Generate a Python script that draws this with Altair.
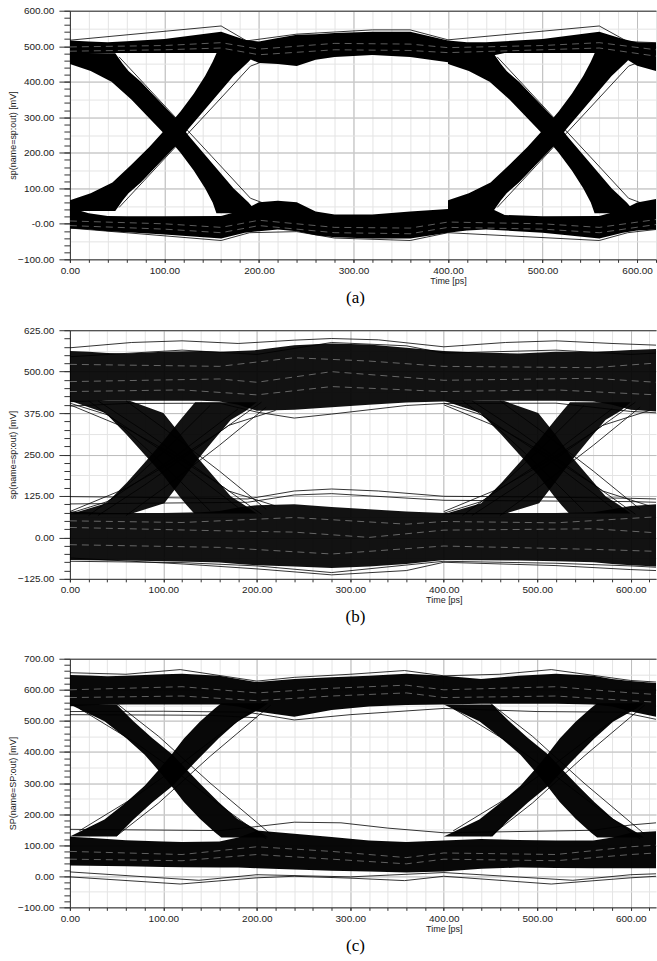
import altair as alt
import pandas as pd

# ---------------- shared axis values ----------------
X_MAJOR = [0, 100, 200, 300, 400, 500, 600]
X_MINOR = [0, 20, 40, 60, 80, 100, 120, 140, 160, 180, 200, 220, 240, 260, 280, 300,
           320, 340, 360, 380, 400, 420, 440, 460, 480, 500, 520, 540, 560, 580, 600, 620]

# ---------------- panel (a) ----------------
A_YMAJ = [-100, 0, 100, 200, 300, 400, 500, 600]
A_YTICK = [-100, -80, -60, -40, -20, 0, 20, 40, 60, 80, 100, 120, 140, 160, 180, 200, 220, 240,
           260, 280, 300, 320, 340, 360, 380, 400, 420, 440, 460, 480, 500, 520, 540, 560, 580, 600]
A_YGRID = [-100, -50, 0, 50, 100, 150, 200, 250, 300, 350, 400, 450, 500, 550, 600]
A_T      = [0, 20, 40, 60, 100, 160, 185, 200, 220, 240, 260, 280, 320, 360, 400, 420, 440, 460, 500, 560, 585, 600, 620]
A_HI_TOP = [516, 513, 511, 514, 520, 541, 518, 513, 523, 532, 534, 537, 541, 541, 516, 511, 511, 514, 520, 541, 520, 511, 510]
A_HI_BOT = [470, 478, 481, 481, 481, 481, 470, 453, 450, 444, 462, 470, 475, 470, 455, 460, 470, 481, 481, 481, 470, 445, 430]
A_LO_TOP = [45, 30, 22, 21, 21, 22, 40, 61, 65, 61, 35, 26, 26, 35, 42, 58, 50, 25, 21, 22, 40, 60, 70]
A_LO_BOT = [-13, -16, -21, -24, -30, -41, -25, -21, -16, -21, -32, -38, -41, -41, -25, -19, -16, -19, -25, -41, -25, -19, -16]
A_FALL_V  = [480, 450, 430, 400, 350, 300, 250, 200, 150, 100, 60, 30]
A_FALL1_L = [0, 0, 22, 44, 65, 83, 101, 117, 131, 143, 151, 155]
A_FALL1_R = [48, 56, 62, 75, 93, 111, 125, 141, 157, 173, 189, 199]
A_FALL2_L = [400, 400, 422, 444, 465, 483, 501, 517, 531, 543, 551, 555]
A_FALL2_R = [448, 456, 462, 475, 493, 511, 525, 541, 557, 573, 589, 599]
A_RISE_V  = [36, 66, 86, 116, 166, 216, 266, 316, 366, 416, 456, 486]
A_RISE1_L = [0, 0, 22, 45, 65, 84, 101, 117, 131, 143, 151, 156]
A_RISE1_R = [48, 56, 62, 75, 93, 111, 125, 141, 157, 173, 189, 199]
A_RISE2_L = [400, 400, 422, 445, 465, 484, 501, 517, 531, 543, 551, 556]
A_RISE2_R = [448, 456, 462, 475, 493, 511, 525, 541, 557, 573, 589, 599]
A_FRINGE = [
    ([0, 160, 187, 240, 320, 360, 400, 560, 590, 620], [517, 557, 515, 534, 546, 546, 518, 557, 513, 510]),
    ([0, 160, 190, 240, 280, 360, 400, 560, 590, 620], [-12, -47, -25, -22, -40, -47, -25, -47, -25, -16]),
    ([52, 79, 150, 191, 205], [470, 393, 190, 72, 58]),
    ([52, 79, 150, 191, 205], [46, 123, 326, 444, 458]),
    ([452, 479, 550, 591, 605], [470, 393, 190, 72, 58]),
    ([452, 479, 550, 591, 605], [46, 123, 326, 444, 458]),
]
A_STREAKS = [
    ([0, 100, 160, 200, 280, 360, 400, 500, 560, 620], [498, 502, 510, 492, 508, 506, 496, 502, 510, 490]),
    ([0, 100, 160, 200, 280, 360, 400, 500, 560, 620], [486, 490, 495, 476, 490, 488, 482, 490, 495, 472]),
    ([0, 100, 160, 200, 280, 360, 400, 500, 560, 620], [8, 0, -10, 10, -10, -12, 5, 0, -10, 12]),
    ([0, 100, 160, 200, 280, 360, 400, 500, 560, 620], [-5, -15, -25, -5, -25, -28, -10, -15, -25, -2]),
]

# ---------------- panel (b) ----------------
B_YMAJ = [-125, 0, 125, 250, 375, 500, 625]
B_YTICK = [-125, -100, -75, -50, -25, 0, 25, 50, 75, 100, 125, 150, 175, 200, 225, 250, 275, 300,
           325, 350, 375, 400, 425, 450, 475, 500, 525, 550, 575, 600, 625]
B_YGRID = [-125, -62.5, 0, 62.5, 125, 187.5, 250, 312.5, 375, 437.5, 500, 562.5, 625]
B_T      = [0, 20, 40, 60, 100, 140, 160, 180, 200, 240, 280, 320, 360, 400, 440, 480, 520, 560, 580, 600, 627]
B_HI_TOP = [562, 560, 556, 555, 560, 562, 560, 562, 565, 580, 585, 582, 572, 562, 558, 555, 560, 560, 562, 565, 568]
B_HI_BOT = [408, 410, 412, 412, 412, 412, 410, 400, 382, 385, 393, 400, 407, 410, 412, 412, 412, 410, 400, 385, 380]
B_LO_TOP = [78, 76, 74, 74, 74, 76, 80, 90, 97, 100, 92, 85, 78, 74, 74, 74, 74, 76, 85, 95, 100]
B_LO_BOT = [-68, -69, -70, -70, -72, -74, -76, -80, -84, -88, -92, -88, -80, -68, -69, -70, -72, -75, -80, -84, -88]
B_FALL_V  = [412, 375, 312, 249, 187, 124, 97, 72]
B_FALL1_L = [0, 38, 60, 80, 100, 117, 125, 133]
B_FALL1_R = [64, 100, 118, 134, 153, 172, 187, 200]
B_FALL2_L = [400, 439, 461, 481, 501, 518, 526, 534]
B_FALL2_R = [464, 501, 519, 535, 554, 573, 588, 600]
B_RISE_V  = [70, 103, 166, 229, 291, 354, 381, 408]
B_RISE1_L = [0, 39, 61, 81, 100, 118, 126, 134]
B_RISE1_R = [64, 101, 118, 135, 153, 172, 188, 200]
B_RISE2_L = [400, 440, 462, 482, 501, 519, 527, 535]
B_RISE2_R = [464, 502, 519, 536, 554, 573, 589, 600]
B_FRINGE = [
    ([0, 66, 120, 180, 240, 280, 330, 400, 466, 520, 580, 627], [572, 588, 593, 585, 595, 600, 596, 575, 588, 593, 585, 580]),
    ([0, 120, 200, 280, 360, 400, 520, 600, 627], [545, 565, 552, 588, 578, 556, 565, 552, 556]),
    ([0, 120, 200, 280, 360, 400, 520, 600, 627], [-62, -80, -95, -113, -100, -75, -85, -97, -100]),
    ([0, 120, 200, 280, 400, 520, 600, 627], [-72, -76, -86, -106, -72, -78, -86, -90]),
    ([0, 100, 190, 240, 280, 330, 400, 500, 600, 627], [123, 120, 116, 140, 146, 140, 124, 122, 118, 116]),
    ([0, 190, 240, 280, 400, 600, 627], [101, 106, 128, 132, 112, 108, 106]),
    ([0, 60, 160, 200, 240, 280, 360, 400, 520, 600, 627], [396, 404, 405, 378, 360, 372, 398, 404, 405, 380, 376]),
    ([0, 60, 110, 160, 205], [400, 330, 250, 160, 70]),
    ([0, 60, 110, 160, 205], [78, 148, 228, 318, 408]),
    ([400, 460, 510, 560, 605], [400, 330, 250, 160, 70]),
    ([400, 460, 510, 560, 605], [78, 148, 228, 318, 408]),
    ([60, 100, 160, 210], [412, 330, 200, 85]),
    ([60, 100, 160, 210], [66, 148, 278, 393]),
    ([460, 500, 560, 610], [412, 330, 200, 85]),
    ([460, 500, 560, 610], [66, 148, 278, 393]),
    ([20, 50, 100, 150], [412, 350, 220, 80]),
    ([20, 50, 100, 150], [66, 128, 258, 398]),
    ([420, 450, 500, 550], [412, 350, 220, 80]),
    ([420, 450, 500, 550], [66, 128, 258, 398]),
    ([0, 40, 110, 180], [405, 370, 240, 90]),
    ([0, 40, 110, 180], [73, 108, 238, 388]),
    ([400, 440, 510, 580], [405, 370, 240, 90]),
    ([400, 440, 510, 580], [73, 108, 238, 388]),
    ([30, 80, 120, 170, 220], [412, 320, 240, 140, 95]),
    ([30, 80, 120, 170, 220], [66, 158, 238, 338, 383]),
    ([430, 480, 520, 570, 620], [412, 320, 240, 140, 95]),
    ([430, 480, 520, 570, 620], [66, 158, 238, 338, 383]),
]
B_STREAKS = [
    ([0, 160, 200, 280, 400, 560, 627], [470, 478, 468, 500, 474, 480, 468]),
    ([0, 160, 240, 320, 400, 560, 627], [522, 516, 542, 532, 516, 512, 526]),
    ([0, 120, 200, 280, 400, 520, 627], [440, 445, 430, 455, 440, 445, 430]),
    ([0, 160, 240, 320, 400, 560, 627], [30, 20, 16, 0, 22, 26, 14]),
    ([0, 160, 280, 400, 560, 627], [-22, -30, -50, -26, -36, -42]),
    ([0, 120, 240, 360, 400, 520, 627], [50, 45, 60, 40, 48, 44, 62]),
]

# ---------------- panel (c) ----------------
C_YMAJ = [-100, 0, 100, 200, 300, 400, 500, 600, 700]
C_YTICK = [-100, -80, -60, -40, -20, 0, 20, 40, 60, 80, 100, 120, 140, 160, 180, 200, 220, 240,
           260, 280, 300, 320, 340, 360, 380, 400, 420, 440, 460, 480, 500, 520, 540, 560, 580,
           600, 620, 640, 660, 680, 700]
C_YGRID = [-100, -50, 0, 50, 100, 150, 200, 250, 300, 350, 400, 450, 500, 550, 600, 650, 700]
C_T      = [0, 20, 40, 60, 100, 120, 160, 180, 200, 240, 280, 320, 360, 400, 440, 480, 520, 560, 580, 600, 627]
C_HI_TOP = [648, 646, 644, 645, 650, 652, 645, 635, 625, 635, 640, 645, 652, 645, 635, 645, 652, 645, 635, 628, 622]
C_HI_BOT = [547, 550, 552, 553, 553, 553, 553, 546, 530, 513, 535, 546, 551, 553, 555, 555, 555, 553, 546, 530, 513]
C_LO_TOP = [127, 124, 120, 116, 112, 110, 112, 125, 147, 137, 126, 115, 110, 115, 120, 117, 115, 115, 125, 140, 145]
C_LO_BOT = [35, 34, 33, 32, 30, 29, 28, 28, 26, 22, 18, 15, 12, 15, 24, 28, 27, 26, 26, 26, 26]
C_FALL_V  = [553, 499, 445, 391, 343, 293, 239, 185, 142, 125]
C_FALL1_L = [0, 37, 60, 80, 94, 108, 122, 139, 155, 162]
C_FALL1_R = [50, 68, 88, 110, 125, 141, 159, 179, 204, 212]
C_FALL2_L = [400, 438, 461, 482, 496, 510, 524, 541, 557, 564]
C_FALL2_R = [452, 470, 490, 512, 527, 543, 561, 581, 606, 614]
C_RISE_V  = [128, 183, 237, 291, 339, 389, 443, 497, 540, 557]
C_RISE1_L = [0, 37, 60, 80, 94, 108, 122, 139, 155, 162]
C_RISE1_R = [50, 68, 88, 110, 125, 141, 159, 179, 204, 212]
C_RISE2_L = [400, 438, 461, 482, 496, 510, 524, 541, 557, 564]
C_RISE2_R = [452, 470, 490, 512, 527, 543, 561, 581, 606, 614]
C_FRINGE = [
    ([0, 60, 118, 200, 240, 300, 358, 400, 460, 515, 600, 627], [655, 650, 665, 628, 640, 650, 662, 645, 650, 665, 630, 625]),
    ([0, 118, 200, 240, 300, 358, 400, 515, 600, 627], [-2, -25, -5, 0, -6, -14, 0, -25, -5, 0]),
    ([0, 138, 200, 300, 400, 538, 600, 627], [14, -13, 5, -2, 12, -13, 5, 8]),
    ([0, 160, 200, 240, 290, 340, 400, 560, 600, 627], [151, 147, 160, 174, 172, 155, 140, 148, 165, 172]),
    ([0, 100, 190, 240, 300, 400, 500, 590, 627], [530, 531, 528, 503, 520, 540, 530, 528, 505]),
    ([0, 150, 200], [520, 518, 510]),
    ([10, 70, 110, 160, 210], [540, 430, 345, 230, 120]),
    ([10, 70, 110, 160, 210], [146, 256, 341, 456, 566]),
    ([410, 470, 510, 560, 610], [540, 430, 345, 230, 120]),
    ([410, 470, 510, 560, 610], [146, 256, 341, 456, 566]),
    ([50, 95, 150, 215], [556, 450, 300, 135]),
    ([50, 95, 150, 215], [130, 236, 386, 551]),
    ([450, 495, 550, 615], [556, 450, 300, 135]),
    ([450, 495, 550, 615], [130, 236, 386, 551]),
]
C_STREAKS = [
    ([0, 120, 200, 280, 360, 400, 520, 600, 627], [600, 610, 590, 605, 615, 600, 610, 590, 585]),
    ([0, 120, 200, 280, 360, 400, 520, 600, 627], [575, 580, 565, 580, 590, 575, 580, 565, 560]),
    ([0, 120, 200, 280, 360, 400, 520, 600, 627], [80, 70, 95, 80, 60, 75, 70, 95, 100]),
    ([0, 120, 200, 280, 360, 400, 520, 600, 627], [55, 50, 70, 55, 40, 55, 50, 70, 75]),
]

CAPTIONS = ["(a)", "(b)", "(c)"]
Y_TITLES = ["sp(name=sp:out) [mV]", "sp(name=sp:out) [mV]", "SP(name=SP:out) [mV]"]

# ---------------- styling ----------------
W = 587
H = 249
GRID_MINOR = "#e4e4e4"
GRID_MAJOR = "#bdbdbd"
AXIS_COLOR = "#333333"


def rails_frame(T, hi_top, hi_bot, lo_top, lo_bot):
    n = len(T)
    return pd.DataFrame({"t": T + T, "top": hi_top + lo_top, "bot": hi_bot + lo_bot,
                         "band": ["hi"] * n + ["lo"] * n})


def edges_frame(fv, f1l, f1r, f2l, f2r, rv, r1l, r1r, r2l, r2r):
    rows = []
    for name, vs, ls, rs in [("f1", fv, f1l, f1r), ("f2", fv, f2l, f2r),
                             ("r1", rv, r1l, r1r), ("r2", rv, r2l, r2r)]:
        for v, l, r in zip(vs, ls, rs):
            rows.append({"band": name, "v": v, "tl": l, "tr": r})
    return pd.DataFrame(rows)


def lines_frame(traces):
    rows = []
    for i, (ts, vs) in enumerate(traces):
        for t, v in zip(ts, vs):
            rows.append({"trace": i, "t": t, "v": v})
    return pd.DataFrame(rows)


def panel(xmax, ydom, ymaj, ytick, ygrid, ytitle, label_expr, rails, edges, fringe, streaks,
          caption, fill_opacity, extra_gap):
    xs = alt.Scale(domain=[0, xmax], nice=False, zero=False)
    ys = alt.Scale(domain=ydom, nice=False, zero=False)
    title_x = 400 * W / xmax

    gx1 = alt.Axis(orient="top", values=X_MINOR, grid=True, gridColor=GRID_MINOR, ticks=False,
                   labels=False, domain=True, domainColor=AXIS_COLOR, title=None)
    gy1 = alt.Axis(orient="left", values=ygrid, grid=True, gridColor=GRID_MINOR, ticks=False,
                   labels=False, domain=False, title=None)
    gx2 = alt.Axis(orient="bottom", values=X_MAJOR, grid=True, gridColor=GRID_MAJOR, ticks=False,
                   labels=False, domain=False, title=None)
    gy2 = alt.Axis(orient="left", values=ymaj, grid=True, gridColor=GRID_MAJOR, ticks=False,
                   labels=False, domain=False, title=None)
    tx = alt.Axis(orient="bottom", values=X_MINOR, grid=False, ticks=True, tickSize=3,
                  tickColor=AXIS_COLOR, labels=False, domain=False, title=None)
    ty = alt.Axis(orient="left", values=ytick, grid=False, ticks=True, tickSize=6,
                  tickColor=AXIS_COLOR, labels=False, domain=False, title=None)
    mx = alt.Axis(orient="bottom", values=X_MAJOR, grid=False, ticks=True, tickSize=3,
                  tickColor=AXIS_COLOR, domain=True, domainColor=AXIS_COLOR, format=".2f",
                  labelFlush=False, labelOverlap=False, labelPadding=3, title="Time [ps]",
                  titleX=title_x, titleY=17, titleBaseline="top", titleAlign="center")
    my = alt.Axis(orient="left", values=ymaj, grid=False, ticks=True, tickSize=11,
                  tickColor=AXIS_COLOR, domain=True, domainColor=AXIS_COLOR, labelExpr=label_expr,
                  labelFlush=False, labelOverlap=False, labelPadding=5, title=ytitle,
                  titleX=-57, titleY=H / 2, titleAngle=270, titleBaseline="middle",
                  titleAlign="center")

    rails_layer = alt.Chart(rails).mark_area(clip=True, color="black", opacity=fill_opacity).encode(
        x=alt.X("t:Q", scale=xs, axis=gx1),
        y=alt.Y("top:Q", scale=ys, axis=gy1),
        y2="bot:Q",
        detail="band:N",
    )
    edges_layer = alt.Chart(edges).mark_area(clip=True, color="black", opacity=fill_opacity,
                                             orient="horizontal").encode(
        y=alt.Y("v:Q", scale=ys, axis=gy2),
        x=alt.X("tl:Q", scale=xs, axis=gx2),
        x2="tr:Q",
        detail="band:N",
    )
    fringe_layer = alt.Chart(fringe).mark_line(clip=True, color="black", strokeWidth=0.8).encode(
        x=alt.X("t:Q", scale=xs, axis=tx),
        y=alt.Y("v:Q", scale=ys, axis=ty),
        detail="trace:N",
    )
    streak_layer = alt.Chart(streaks).mark_line(clip=True, color="white", strokeWidth=0.8,
                                                opacity=0.45, strokeDash=[7, 5]).encode(
        x=alt.X("t:Q", scale=xs, axis=mx),
        y=alt.Y("v:Q", scale=ys, axis=my),
        detail="trace:N",
    )
    cap_df = pd.DataFrame({"label": [caption]})
    cap_layer = alt.Chart(cap_df).mark_text(font="Liberation Serif", fontSize=17, align="center",
                                            baseline="middle", color="black").encode(
        text="label:N", x=alt.value(286), y=alt.value(H + 38.5))
    layers = [rails_layer, edges_layer, fringe_layer, streak_layer, cap_layer]
    if extra_gap > 0:
        spacer = alt.Chart(cap_df).mark_text(font="Liberation Serif", fontSize=17, align="center",
                                             baseline="middle", opacity=0).encode(
            text="label:N", x=alt.value(286), y=alt.value(H + 38.5 + extra_gap))
        layers.append(spacer)
    return alt.layer(*layers).resolve_axis(x="independent", y="independent").properties(
        width=W, height=H)


pa = panel(620, [-100, 600], A_YMAJ, A_YTICK, A_YGRID, Y_TITLES[0],
           "datum.value == 0 ? '-0.00' : format(datum.value, '.2f')",
           rails_frame(A_T, A_HI_TOP, A_HI_BOT, A_LO_TOP, A_LO_BOT),
           edges_frame(A_FALL_V, A_FALL1_L, A_FALL1_R, A_FALL2_L, A_FALL2_R,
                       A_RISE_V, A_RISE1_L, A_RISE1_R, A_RISE2_L, A_RISE2_R),
           lines_frame(A_FRINGE), lines_frame(A_STREAKS), CAPTIONS[0], 1.0, 0)

pb = panel(627, [-125, 625], B_YMAJ, B_YTICK, B_YGRID, Y_TITLES[1],
           "format(datum.value, '.2f')",
           rails_frame(B_T, B_HI_TOP, B_HI_BOT, B_LO_TOP, B_LO_BOT),
           edges_frame(B_FALL_V, B_FALL1_L, B_FALL1_R, B_FALL2_L, B_FALL2_R,
                       B_RISE_V, B_RISE1_L, B_RISE1_R, B_RISE2_L, B_RISE2_R),
           lines_frame(B_FRINGE), lines_frame(B_STREAKS), CAPTIONS[1], 0.93, 9)

pc = panel(627, [-100, 700], C_YMAJ, C_YTICK, C_YGRID, Y_TITLES[2],
           "format(datum.value, '.2f')",
           rails_frame(C_T, C_HI_TOP, C_HI_BOT, C_LO_TOP, C_LO_BOT),
           edges_frame(C_FALL_V, C_FALL1_L, C_FALL1_R, C_FALL2_L, C_FALL2_R,
                       C_RISE_V, C_RISE1_L, C_RISE1_R, C_RISE2_L, C_RISE2_R),
           lines_frame(C_FRINGE), lines_frame(C_STREAKS), CAPTIONS[2], 0.97, 0)

chart = alt.vconcat(pa, pb, pc, spacing=18).properties(
    padding={"left": 8, "top": 4, "right": 0, "bottom": 0},
    background="white",
).configure_view(stroke="transparent").configure_axis(
    labelFont="Liberation Sans", labelFontSize=10, labelColor="#222222",
    titleFont="Liberation Sans", titleFontSize=9, titleColor="#222222", titleFontWeight="normal",
)

chart.save("out.html", embed_options={"renderer": "svg", "actions": False})
